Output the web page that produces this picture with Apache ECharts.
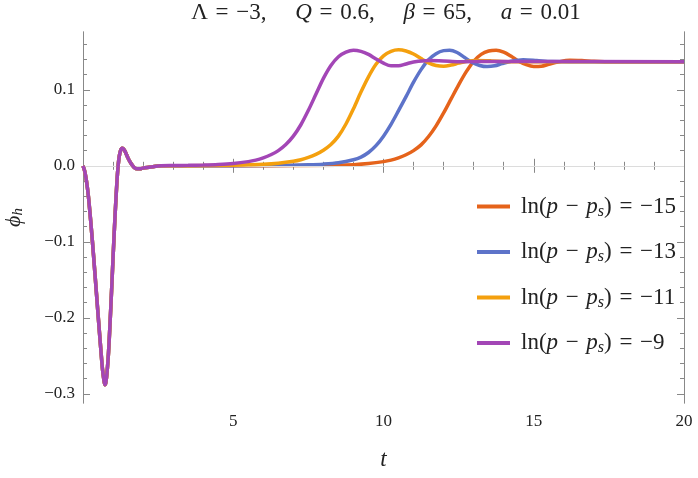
<!DOCTYPE html>
<html>
<head>
<meta charset="utf-8">
<script src="https://cdn.jsdelivr.net/npm/echarts@6/dist/echarts.min.js"></script>
<style>html,body{margin:0;padding:0;background:#fff}#chart{width:698px;height:478px}</style>
</head>
<body>
<div id="chart"></div>
<script>
var myChart = echarts.init(document.getElementById('chart'));

// early dip, shared by all four runs
var dipT   = [0, 0.05, 0.1, 0.15, 0.2, 0.3, 0.4, 0.5, 0.6, 0.65, 0.7, 0.73, 0.76, 0.8, 0.85, 0.9, 0.95, 1.0, 1.05, 1.1, 1.15, 1.2, 1.25, 1.3, 1.35, 1.4, 1.5, 1.6, 1.7, 1.8, 1.9, 2.0, 2.2];
var dipPhi = [0, -0.006, -0.016, -0.03, -0.048, -0.093, -0.143, -0.195, -0.245, -0.268, -0.283, -0.288, -0.285, -0.272, -0.245, -0.207, -0.165, -0.121, -0.079, -0.041, -0.009, 0.011, 0.02, 0.023, 0.022, 0.019, 0.01, 0.003, -0.002, -0.004, -0.004, -0.003, -0.002];

// ln(p-ps) = -15
var tRed   = [2.6, 6, 8.5, 9.0, 9.5, 10.0, 10.25, 10.5, 10.75, 11.0, 11.25, 11.5, 11.75, 12.0, 12.25, 12.5, 12.75, 13.0, 13.25, 13.5, 13.75, 14.0, 14.25, 14.5, 14.75, 15.0, 15.25, 15.5, 15.8, 16.2, 16.6, 17.0, 17.6, 18.5, 20];
var phiRed = [0, 0.0001, 0.0008, 0.0015, 0.003, 0.0055, 0.0075, 0.0105, 0.0145, 0.02, 0.0275, 0.0385, 0.0525, 0.0695, 0.088, 0.1065, 0.1235, 0.1375, 0.1465, 0.151, 0.152, 0.1495, 0.144, 0.1375, 0.133, 0.1307, 0.131, 0.1335, 0.1365, 0.139, 0.1385, 0.1375, 0.1368, 0.137, 0.137];
// ln(p-ps) = -13
var tBlue   = [2.6, 5, 7.0, 7.5, 8.0, 8.5, 9.0, 9.25, 9.5, 9.75, 10.0, 10.25, 10.5, 10.75, 11.0, 11.25, 11.5, 11.75, 12.0, 12.2, 12.45, 12.7, 12.95, 13.2, 13.45, 13.7, 13.95, 14.25, 14.65, 15.1, 15.6, 16.5, 20];
var phiBlue = [0, 0.0001, 0.0008, 0.0013, 0.0022, 0.004, 0.008, 0.0115, 0.0175, 0.0265, 0.039, 0.0545, 0.0725, 0.091, 0.11, 0.1265, 0.1395, 0.1475, 0.1515, 0.152, 0.149, 0.1425, 0.136, 0.132, 0.1305, 0.1315, 0.1345, 0.1375, 0.1395, 0.1385, 0.1372, 0.137, 0.137];
// ln(p-ps) = -11
var tOrange   = [2.6, 3.5, 5.0, 5.5, 6.0, 6.5, 7.0, 7.25, 7.5, 7.75, 8.0, 8.25, 8.5, 8.75, 9.0, 9.25, 9.5, 9.75, 10.0, 10.25, 10.5, 10.75, 11.0, 11.25, 11.5, 11.75, 12.0, 12.25, 12.5, 12.75, 13.1, 13.6, 14.2, 20];
var phiOrange = [0, 0.0002, 0.0008, 0.0013, 0.002, 0.0035, 0.006, 0.008, 0.011, 0.015, 0.0205, 0.028, 0.039, 0.055, 0.075, 0.097, 0.117, 0.1335, 0.1445, 0.1505, 0.1525, 0.151, 0.147, 0.141, 0.1355, 0.132, 0.131, 0.1325, 0.135, 0.1372, 0.1385, 0.138, 0.137, 0.137];
// ln(p-ps) = -9
var tPurple   = [2.6, 3.0, 3.5, 4.0, 4.5, 5.0, 5.5, 5.75, 6.0, 6.25, 6.5, 6.75, 7.0, 7.25, 7.5, 7.75, 8.0, 8.25, 8.5, 8.75, 9.0, 9.25, 9.5, 9.75, 10.0, 10.25, 10.5, 10.75, 11.0, 11.5, 12.0, 12.5, 14, 20];
var phiPurple = [0, 0.0003, 0.0006, 0.001, 0.0017, 0.003, 0.0055, 0.0075, 0.0105, 0.0145, 0.02, 0.028, 0.039, 0.054, 0.073, 0.094, 0.115, 0.132, 0.1435, 0.1495, 0.152, 0.1505, 0.1465, 0.1405, 0.135, 0.1315, 0.1315, 0.134, 0.1365, 0.1385, 0.138, 0.137, 0.1371, 0.137];

var lnValues = ['−15', '−13', '−11', '−9'];
var colors = ['#E5631B', '#5D73C9', '#F4A00E', '#A346B6'];
var xLabels = [5, 10, 15, 20];
var yMajor = [-0.3, -0.2, -0.1, 0, 0.1];
var yMinor = [-0.3, -0.28, -0.26, -0.24, -0.22, -0.2, -0.18, -0.16, -0.14, -0.12, -0.1, -0.08, -0.06, -0.04, -0.02, 0,
              0.02, 0.04, 0.06, 0.08, 0.1, 0.12, 0.14, 0.16];

function pairs(t, v) {
    var out = [];
    for (var i = 0; i < dipT.length; i++) out.push([dipT[i], dipPhi[i]]);
    for (var j = 0; j < t.length; j++) out.push([t[j], v[j]]);
    return out;
}
var runs = [[tRed, phiRed], [tBlue, phiBlue], [tOrange, phiOrange], [tPurple, phiPurple]];

var serif = "'Liberation Serif', 'DejaVu Serif', serif";
var frame = '#888';
var ink = '#222';
var yMin = -0.312, yMax = 0.176;
var sp = '\u2004';   // three-per-em space around = and −
var quad = '\u2003 ';

function yAxisOf(pos, vals, len, labels) {
    return {
        type: 'value', position: pos, min: yMin, max: yMax,
        axisLine: { show: true, lineStyle: { color: frame, width: 1 } },
        axisTick: { show: true, inside: true, length: len, customValues: vals, lineStyle: { color: frame } },
        axisLabel: labels ? {
            show: true, customValues: vals, margin: 8, fontFamily: serif, fontSize: 17, color: ink,
            formatter: function (v) { return v.toFixed(1).replace('-', '−'); }
        } : { show: false },
        splitLine: { show: false }
    };
}
function xAxisOf(pos, labels) {
    return {
        type: 'value', position: pos, min: 0, max: 20, interval: 5,
        axisLine: { show: true, lineStyle: { color: frame, width: 1 } },
        axisTick: { show: true, inside: true, length: 7, lineStyle: { color: frame } },
        minorTick: { show: true, splitNumber: 5, length: 4, lineStyle: { color: frame } },
        axisLabel: labels ? { show: true, customValues: xLabels, margin: 10, fontFamily: serif, fontSize: 17, color: ink } : { show: false },
        splitLine: { show: false },
        name: labels ? 't' : '', nameLocation: 'middle', nameGap: 45,
        nameTextStyle: { fontFamily: serif, fontStyle: 'italic', fontSize: 23, color: ink }
    };
}

var ySet = [yAxisOf('left', yMajor, 7, true), yAxisOf('left', yMinor, 4, false),
            yAxisOf('right', yMajor, 7, false), yAxisOf('right', yMinor, 4, false)];
ySet[0].name = '{i|ϕ}{s|h}';
ySet[0].nameLocation = 'middle';
ySet[0].nameRotate = 90;
ySet[0].nameGap = 57;
ySet[0].nameTextStyle = {
    fontFamily: serif, color: ink,
    rich: {
        i: { fontFamily: serif, fontStyle: 'italic', fontSize: 22, lineHeight: 24, color: ink },
        s: { fontFamily: serif, fontStyle: 'italic', fontSize: 15, lineHeight: 14, verticalAlign: 'bottom', color: ink }
    }
};

var series = [];
for (var k = 0; k < runs.length; k++) {
    var s = {
        name: 'ln(p − ps) = ' + lnValues[k],
        type: 'line',
        data: pairs(runs[k][0], runs[k][1]),
        smooth: 0.3,
        symbol: 'none',
        lineStyle: { color: colors[k], width: 3.5 },
        itemStyle: { color: colors[k] },
        z: 3 + k
    };
    if (k === 0) {
        s.markLine = {
            silent: true, symbol: 'none', label: { show: false },
            lineStyle: { color: '#dcdcdc', width: 1, type: 'solid' },
            data: [{ yAxis: 0 }]
        };
    }
    series.push(s);
}

var option = {
    backgroundColor: '#fff',
    animation: false,
    title: {
        text: '{r|Λ' + sp + '=' + sp + '−3,' + quad + '}{i|Q}{r|' + sp + '=' + sp + '0.6,' + quad + '}{i|β}{r|' + sp + '=' + sp + '65,' + quad + '}{i|a}{r|' + sp + '=' + sp + '0.01}',
        left: 386, top: 1, textAlign: 'center', padding: 0,
        textStyle: {
            fontWeight: 'normal',
            rich: {
                r: { fontFamily: serif, fontSize: 23, fontWeight: 'normal', color: ink },
                i: { fontFamily: serif, fontSize: 23, fontWeight: 'normal', fontStyle: 'italic', color: ink }
            }
        }
    },
    grid: { left: 83, right: 14, top: 32, bottom: 75, containLabel: false, outerBoundsMode: 'none' },
    legend: {
        orient: 'vertical', left: 472, top: 190,
        icon: 'rect', itemWidth: 33, itemHeight: 4, itemGap: 21,
        data: series.map(function (s) { return s.name; }),
        formatter: function (name) {
            var v = name.split('= ')[1];
            return '{g| }{r|ln(}{i|p}{r|' + sp + '−' + sp + '}{i|p}{s|s}{r|)' + sp + '=' + sp + v + '}';
        },
        textStyle: {
            rich: {
                g: { fontSize: 10, width: 6 },
                r: { fontFamily: serif, fontSize: 23, lineHeight: 26, color: ink },
                i: { fontFamily: serif, fontSize: 23, lineHeight: 26, fontStyle: 'italic', color: ink },
                s: { fontFamily: serif, fontSize: 16, lineHeight: 16, fontStyle: 'italic', verticalAlign: 'bottom', color: ink }
            }
        }
    },
    xAxis: [xAxisOf('bottom', true), xAxisOf('top', false)],
    yAxis: ySet,
    series: series
};
myChart.setOption(option);
</script>
</body>
</html>
